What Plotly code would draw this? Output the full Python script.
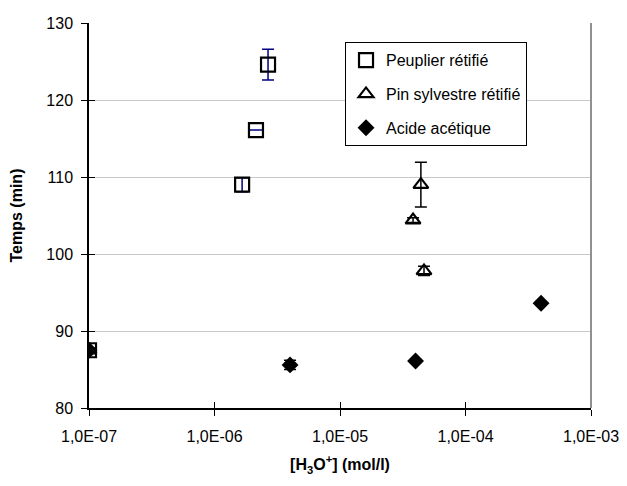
import plotly.graph_objects as go

# données
peuplier_x = [1e-7, 1.66e-6, 2.14e-6, 2.67e-6]
peuplier_y = [87.5, 109.0, 116.1, 124.6]
peuplier_err = [0, 0.9, 0, 2.0]

pin_x = [1e-7, 3.82e-5, 4.41e-5, 4.67e-5]
pin_y = [87.5, 104.4, 109.0, 97.8]
pin_err = [0, 0.3, 2.9, 0.6]

acide_x = [1e-7, 4.0e-6, 4.0e-5, 4.0e-4]
acide_y = [87.5, 85.6, 86.1, 93.6]
acide_err = [0.3, 0.6, 0.2, 0.2]

x_ticks = [1e-7, 1e-6, 1e-5, 1e-4, 1e-3]
x_labels = ['1,0E-07', '1,0E-06', '1,0E-05', '1,0E-04', '1,0E-03']
y_ticks = [80, 90, 100, 110, 120, 130]

fig = go.Figure()

fig.add_trace(go.Scatter(
    x=peuplier_x, y=peuplier_y, mode='markers', name='Peuplier rétifié',
    legendgroup='a',
    marker=dict(symbol='square-open', size=14, color='black', line=dict(width=2.2)),
    error_y=dict(type='data', array=peuplier_err, color='#000080', thickness=1.5, width=6),
))
fig.add_trace(go.Scatter(
    x=pin_x, y=pin_y, mode='markers', name='Pin sylvestre rétifié',
    legendgroup='b',
    marker=dict(symbol='triangle-up-open', size=13, color='black', line=dict(width=2.2)),
    error_y=dict(type='data', array=pin_err, color='black', thickness=1.5, width=6),
))
fig.add_trace(go.Scatter(
    x=acide_x, y=acide_y, mode='markers', name='Acide acétique',
    legendgroup='c',
    marker=dict(symbol='diamond', size=13, color='black'),
    error_y=dict(type='data', array=acide_err, color='black', thickness=1.5, width=6),
))

# axes superposés pour les graduations qui traversent les axes
fig.add_trace(go.Scatter(x=[x_ticks[0]], y=[y_ticks[0]], xaxis='x2', yaxis='y2',
                         mode='markers', marker=dict(opacity=0), showlegend=False,
                         hoverinfo='skip'))

fig.update_layout(
    width=627, height=486,
    plot_bgcolor='white',
    paper_bgcolor='white',
    margin=dict(l=81, r=44, t=15, b=86, autoexpand=False),
    font=dict(family='Liberation Sans, Arial', size=16, color='black'),
    xaxis=dict(
        type='log',
        range=[-7, -3],
        tickvals=x_ticks,
        ticktext=x_labels,
        showgrid=False,
        showline=True,
        linecolor='black',
        linewidth=1.5,
        ticks='outside',
        ticklen=6,
        tickcolor='black',
        ticklabelstandoff=7,
        tickfont=dict(size=16),
        title=dict(text='<b>[H<sub>3</sub>O<sup>+</sup>] (mol/l)</b>', font=dict(size=16), standoff=15),
        zeroline=False,
    ),
    yaxis=dict(
        range=[80, 130],
        tickvals=y_ticks,
        showgrid=True,
        gridcolor='#c8c8c8',
        gridwidth=1,
        showline=True,
        linecolor='black',
        linewidth=1.5,
        ticks='outside',
        ticklen=6,
        tickcolor='black',
        ticklabelstandoff=5,
        tickfont=dict(size=16),
        title=dict(text='<b>Temps (min)</b>', font=dict(size=16), standoff=20),
        zeroline=False,
    ),
    xaxis2=dict(
        type='log', range=[-7, -3], overlaying='x', anchor='y2',
        tickvals=x_ticks, showticklabels=False, ticks='inside', ticklen=6,
        tickcolor='black', showgrid=False, showline=False, zeroline=False,
    ),
    yaxis2=dict(
        range=[80, 130], overlaying='y', anchor='x2', side='left',
        tickvals=y_ticks, showticklabels=False, ticks='inside', ticklen=6,
        tickcolor='black', showgrid=False, showline=False, zeroline=False,
    ),
    legend=dict(
        x=0.51, y=0.95, xanchor='left', yanchor='top',
        bordercolor='black', borderwidth=1,
        bgcolor='white',
        font=dict(size=16),
        traceorder='grouped',
        tracegroupgap=10,
        itemwidth=30,
    ),
    shapes=[dict(type='line', xref='paper', yref='paper', x0=1, x1=1, y0=0, y1=1,
                 line=dict(color='#909090', width=2))],
)

fig.write_html('out.html')
